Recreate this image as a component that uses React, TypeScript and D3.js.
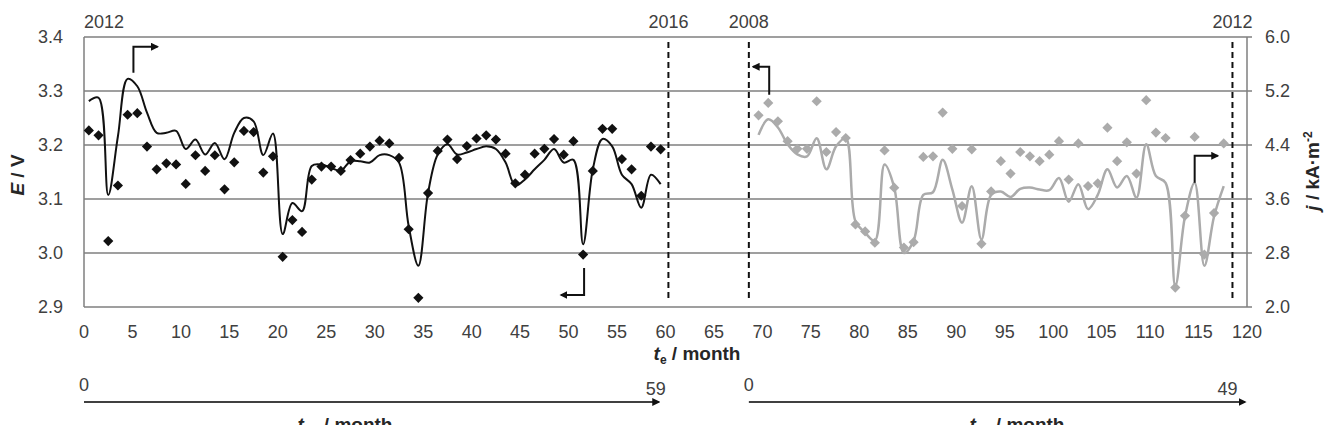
import { useEffect, useRef } from 'react'
import * as d3 from 'd3'

// period 1 (2012-2016), black: months of operation
const blackMonths = [
  0.5, 1.5, 2.5, 3.5, 4.5, 5.5, 6.5, 7.5, 8.5, 9.5,
  10.5, 11.5, 12.5, 13.5, 14.5, 15.5, 16.5, 17.5, 18.5, 19.5,
  20.5, 21.5, 22.5, 23.5, 24.5, 25.5, 26.5, 27.5, 28.5, 29.5,
  30.5, 31.5, 32.5, 33.5, 34.5, 35.5, 36.5, 37.5, 38.5, 39.5,
  40.5, 41.5, 42.5, 43.5, 44.5, 45.5, 46.5, 47.5, 48.5, 49.5,
  50.5, 51.5, 52.5, 53.5, 54.5, 55.5, 56.5, 57.5, 58.5, 59.5,
]
// cell voltage E / V (left axis)
const blackE = [
  3.227, 3.218, 3.022, 3.125, 3.256, 3.259, 3.197, 3.155, 3.166, 3.164,
  3.128, 3.181, 3.152, 3.181, 3.118, 3.168, 3.226, 3.224, 3.149, 3.179,
  2.993, 3.061, 3.039, 3.136, 3.160, 3.160, 3.152, 3.172, 3.184, 3.197,
  3.208, 3.203, 3.176, 3.044, 2.917, 3.111, 3.189, 3.210, 3.174, 3.198,
  3.212, 3.218, 3.210, 3.184, 3.129, 3.145, 3.184, 3.193, 3.211, 3.182,
  3.207, 2.997, 3.152, 3.230, 3.230, 3.174, 3.155, 3.106, 3.197, 3.192,
]
// current density j / kA m-2 (right axis)
const blackJ = [
  5.05, 5.10, 3.66, 4.53, 5.38, 5.27, 4.88, 4.58, 4.58, 4.61,
  4.34, 4.48, 4.26, 4.43, 4.19, 4.58, 4.80, 4.75, 4.25, 4.57,
  3.08, 3.54, 3.42, 4.09, 4.11, 4.06, 4.02, 4.16, 4.16, 4.14,
  4.25, 4.25, 4.14, 3.20, 2.61, 3.69, 4.26, 4.41, 4.26, 4.29,
  4.34, 4.38, 4.34, 4.14, 3.80, 3.89, 4.04, 4.18, 4.34, 4.14,
  4.18, 2.93, 4.04, 4.49, 4.38, 3.96, 3.82, 3.47, 3.96, 3.82,
]

// period 2 (2008-2012), gray
const grayMonths = [
  69.6, 70.6, 71.6, 72.6, 73.6, 74.6, 75.6, 76.6, 77.6, 78.6,
  79.6, 80.6, 81.6, 82.6, 83.6, 84.6, 85.6, 86.6, 87.6, 88.6,
  89.6, 90.6, 91.6, 92.6, 93.6, 94.6, 95.6, 96.6, 97.6, 98.6,
  99.6, 100.6, 101.6, 102.6, 103.6, 104.6, 105.6, 106.6, 107.6, 108.6,
  109.6, 110.6, 111.6, 112.6, 113.6, 114.6, 115.6, 116.6, 117.6,
]
const grayE = [
  3.255, 3.278, 3.244, 3.207, 3.193, 3.193, 3.281, 3.187, 3.224, 3.213,
  3.053, 3.040, 3.019, 3.190, 3.121, 3.010, 3.020, 3.178, 3.179, 3.260,
  3.193, 3.087, 3.192, 3.017, 3.114, 3.170, 3.147, 3.187, 3.179, 3.170,
  3.182, 3.207, 3.136, 3.203, 3.124, 3.129, 3.232, 3.170, 3.205, 3.147,
  3.283, 3.223, 3.213, 2.936, 3.069, 3.215, 2.997, 3.074, 3.203,
]
const grayJ = [
  4.55, 4.78, 4.66, 4.41, 4.26, 4.23, 4.50, 4.04, 4.38, 4.50,
  3.27, 3.10, 2.98, 4.11, 3.77, 2.80, 2.98, 3.66, 3.70, 4.18,
  3.74, 3.25, 3.79, 3.00, 3.66, 3.71, 3.63, 3.75, 3.77, 3.74,
  3.73, 3.91, 3.56, 3.82, 3.45, 3.66, 4.04, 3.77, 3.94, 3.62,
  4.41, 3.94, 3.84, 2.31, 3.34, 3.84, 2.61, 3.34, 3.79,
]

const xTicks = [0, 5, 10, 15, 20, 25, 30, 35, 40, 45, 50, 55, 60, 65, 70, 75, 80, 85, 90, 95, 100, 105, 110, 115, 120]
const leftTicks = [2.9, 3.0, 3.1, 3.2, 3.3, 3.4]
const rightTicks = [2.0, 2.8, 3.6, 4.4, 5.2, 6.0]

// year boundaries (dashed) and period start
const yearMonths = [60.3, 68.6, 118.5]
const yearLabels = ['2016', '2008', '2012']
const startLabel = '2012'

// operating-time sub axes
const opStart = [0, 68.6]
const opEnd = [59.5, 120]
const opEndLabels = ['59', '49']
const opEndAt = [59, 118]

const FONT = 'Liberation Sans, Arial, Helvetica, sans-serif'

function App() {
  const ref = useRef<SVGSVGElement>(null)

  useEffect(() => {
    const width = 1329
    const height = 425
    const left = 84
    const right = 1247
    const top = 37
    const bottom = 307

    const svg = d3.select(ref.current)
    svg.selectAll('*').remove()
    svg.attr('width', width).attr('height', height)

    const x = d3.scaleLinear().domain([0, 120]).range([left, right])
    const yE = d3.scaleLinear().domain([2.9, 3.4]).range([bottom, top])
    const yJ = d3.scaleLinear().domain([2.0, 6.0]).range([bottom, top])

    const defs = svg.append('defs')
    defs.append('marker')
      .attr('id', 'head')
      .attr('viewBox', '0 0 10 10')
      .attr('refX', 8)
      .attr('refY', 5)
      .attr('markerWidth', 4)
      .attr('markerHeight', 4)
      .attr('orient', 'auto')
      .append('path')
      .attr('d', 'M0,0 L10,5 L0,10 Z')
      .attr('fill', '#111')

    // gridlines
    svg.append('g')
      .selectAll('line')
      .data(leftTicks)
      .join('line')
      .attr('x1', left)
      .attr('x2', right)
      .attr('y1', d => yE(d))
      .attr('y2', d => yE(d))
      .attr('stroke', '#7f7f7f')
      .attr('stroke-width', 1.5)

    // left and right axis lines
    svg.append('line')
      .attr('x1', left).attr('x2', left).attr('y1', top).attr('y2', bottom)
      .attr('stroke', '#7f7f7f').attr('stroke-width', 1.5)
    svg.append('line')
      .attr('x1', right).attr('x2', right).attr('y1', top).attr('y2', bottom)
      .attr('stroke', '#7f7f7f').attr('stroke-width', 1.5)

    // right axis ticks
    svg.append('g')
      .selectAll('line')
      .data(rightTicks)
      .join('line')
      .attr('x1', right)
      .attr('x2', right + 5)
      .attr('y1', d => yJ(d))
      .attr('y2', d => yJ(d))
      .attr('stroke', '#7f7f7f')
      .attr('stroke-width', 1.5)

    const labelStyle = (sel: any) => sel
      .attr('font-family', FONT)
      .attr('font-size', 18)
      .attr('fill', '#404040')

    // tick labels
    svg.append('g').call(labelStyle)
      .selectAll('text')
      .data(leftTicks)
      .join('text')
      .attr('x', 63)
      .attr('y', d => yE(d))
      .attr('dy', '0.35em')
      .attr('text-anchor', 'end')
      .text(d => d3.format('.1f')(d))

    svg.append('g').call(labelStyle)
      .selectAll('text')
      .data(rightTicks)
      .join('text')
      .attr('x', 1265)
      .attr('y', d => yJ(d))
      .attr('dy', '0.35em')
      .attr('text-anchor', 'start')
      .text(d => d3.format('.1f')(d))

    svg.append('g').call(labelStyle)
      .selectAll('text')
      .data(xTicks)
      .join('text')
      .attr('x', d => x(d))
      .attr('y', 338)
      .attr('text-anchor', 'middle')
      .text(d => d)

    // year boundaries
    svg.append('g')
      .selectAll('line')
      .data(yearMonths)
      .join('line')
      .attr('x1', d => x(d))
      .attr('x2', d => x(d))
      .attr('y1', 42)
      .attr('y2', 301)
      .attr('stroke', '#111')
      .attr('stroke-width', 2)
      .attr('stroke-dasharray', '6,4')

    svg.append('g').call(labelStyle)
      .selectAll('text')
      .data(yearMonths)
      .join('text')
      .attr('x', d => x(d))
      .attr('y', 28)
      .attr('text-anchor', 'middle')
      .text((d, i) => yearLabels[i])

    svg.append('text').call(labelStyle)
      .attr('x', x(0))
      .attr('y', 28)
      .text(startLabel)

    // series
    const smooth = d3.curveCatmullRom.alpha(0.5)
    const lineJ = d3.line<number>()
      .curve(smooth)

    const drawSeries = (months: number[], es: number[], js: number[], color: string, lw: number) => {
      svg.append('path')
        .attr('d', lineJ(months.map((m, i) => [x(m), yJ(js[i])]) as any))
        .attr('fill', 'none')
        .attr('stroke', color)
        .attr('stroke-width', lw)

      const diamond = d3.symbol(d3.symbolSquare, 52)
      svg.append('g')
        .selectAll('path')
        .data(months)
        .join('path')
        .attr('d', diamond)
        .attr('transform', (m, i) => `translate(${x(m)},${yE(es[i])}) rotate(45)`)
        .attr('fill', color)
    }

    drawSeries(grayMonths, grayE, grayJ, '#ababab', 2.5)
    drawSeries(blackMonths, blackE, blackJ, '#111', 2)

    // bracket arrows: which axis a series belongs to
    const bracket = (x0: number, y0: number, up: number, side: number) => {
      svg.append('path')
        .attr('d', `M${x0},${y0} V${y0 + up} H${x0 + side}`)
        .attr('fill', 'none')
        .attr('stroke', '#111')
        .attr('stroke-width', 2)
        .attr('marker-end', 'url(#head)')
    }
    bracket(x(5.1), yJ(5.47), -26, 24)
    bracket(x(51.6), yE(2.972), 27, -23)
    bracket(x(70.7), yE(3.293), -28, -16)
    bracket(x(114.6), yJ(3.84), -27, 23)

    // axis titles
    const title = svg.append('g')
      .attr('font-family', FONT)
      .attr('font-size', 19)
      .attr('font-weight', 'bold')
      .attr('fill', '#262626')

    const eT = title.append('text')
      .attr('transform', 'translate(24,175) rotate(-90)')
      .attr('text-anchor', 'middle')
    eT.append('tspan').attr('font-style', 'italic').text('E')
    eT.append('tspan').text(' / V')

    const jT = title.append('text')
      .attr('transform', 'translate(1319,171) rotate(-90)')
      .attr('text-anchor', 'middle')
    jT.append('tspan').attr('font-style', 'italic').text('j')
    jT.append('tspan').text(' / kA\u00b7m')
    jT.append('tspan').attr('font-size', 12).attr('dy', -7).text('-2')

    const tT = title.append('text')
      .attr('x', 697)
      .attr('y', 360)
      .attr('text-anchor', 'middle')
    tT.append('tspan').attr('font-style', 'italic').text('t')
    tT.append('tspan').attr('font-size', 12).attr('dy', 4).text('e')
    tT.append('tspan').attr('dy', -4).text(' / month')

    // operating-time sub axes
    opStart.forEach((s, i) => {
      svg.append('line')
        .attr('x1', x(s))
        .attr('x2', x(opEnd[i]) - 2)
        .attr('y1', 402)
        .attr('y2', 402)
        .attr('stroke', '#404040')
        .attr('stroke-width', 2)
        .attr('marker-end', 'url(#head)')
      svg.append('text').call(labelStyle)
        .attr('x', x(s))
        .attr('y', 391)
        .attr('text-anchor', 'middle')
        .text('0')
      svg.append('text').call(labelStyle)
        .attr('x', x(opEndAt[i]))
        .attr('y', 395)
        .attr('text-anchor', 'middle')
        .text(opEndLabels[i])

      const op = title.append('text')
        .attr('x', i === 0 ? 345 : 1017)
        .attr('y', 431)
        .attr('text-anchor', 'middle')
      op.append('tspan').attr('font-style', 'italic').text('t')
      op.append('tspan').attr('font-size', 12).attr('dy', 4).text('op')
      op.append('tspan').attr('dy', -4).text(' / month')
    })
  }, [])

  return (
    <svg ref={ref} style={{ position: 'absolute', left: 0, top: 0, background: '#fff' }} />
  )
}

export default App
